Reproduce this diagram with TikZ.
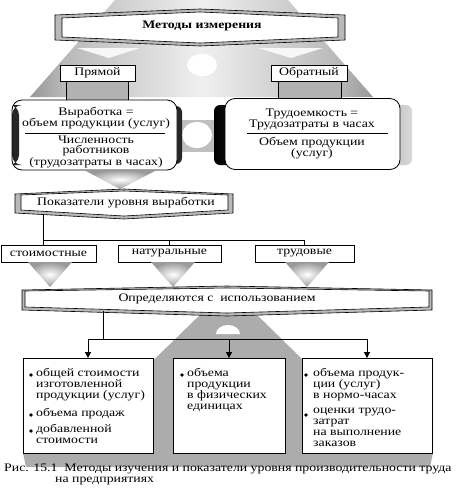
\documentclass[tikz,border=0pt]{standalone}
\usepackage{fontspec}
\setmainfont{Liberation Serif}[FakeStretch=1.2]
\usetikzlibrary{arrows.meta}
\pgfdeclarehorizontalshading{trapsh}{100bp}{color(0bp)=(black); color(12bp)=(black!75); color(30bp)=(gray!55); color(50bp)=(gray!12); color(70bp)=(gray!55); color(88bp)=(black!75); color(100bp)=(black)}
\begin{document}
\begin{tikzpicture}[x=1pt,y=-1pt,
  every node/.style={inner sep=0pt, font=\fontsize{11.5}{10}\selectfont},
  lab/.style={draw=black, fill=white, line width=0.8pt, minimum height=16pt},
  ln/.style={line width=0.8pt},
  arr/.style={line width=0.8pt, -{Triangle[length=6pt,width=6pt]}},
  txt/.style={align=center},
  btxt/.style={align=left, anchor=north west, font=\fontsize{11.5}{11}\selectfont},
  bigbox/.style={draw=black, fill=white, line width=0.8pt, minimum height=95pt},
  rbox/.style={draw=black, fill=white, rounded corners=10pt, line width=0.8pt},
  ban/.style={line width=0.6pt},
  fun/.style={inner color=white, outer color=gray!80},
]
\useasboundingbox (0,0) rectangle (459,493);
% top trapezoid
\shade[shading=trapsh] (115,0) -- (288,0) -- (373,97) -- (30,97) -- cycle;
\fill[gray!6] (77,48) -- (140,48) -- (109,58) -- cycle;
\fill[gray!6] (258,48) -- (323,48) -- (291,58) -- cycle;
\fill[white] (202,65) ellipse (15 and 11);
% banner 1
\filldraw[ban, fill=gray!55] (55,15)--(200,9)--(345,15)--(345,40)--(200,46)--(55,40)--cycle;
\filldraw[ban, fill=white] (62,18)--(200,12)--(338,18)--(338,37)--(200,43)--(62,37)--cycle;
\node[font=\fontsize{11.5}{10}\selectfont\bfseries] (mi) at (202,26) {Методы измерения};
% labels and pillars
\node[lab, minimum width=75pt] (pr) at (97.5,73) {Прямой};
\node[lab, minimum width=76pt] (ob) at (309,73) {Обратный};
\filldraw[ln, fill=gray!60] (66,81) rectangle (128,100);
\filldraw[ln, fill=gray!60] (278,81) rectangle (341,98);
% middle band
\fill[gray!50] (170,120) rectangle (226,152);
\fill[white] (197,135) ellipse (15 and 13);
% left box
\fill[black!85, rounded corners=6pt] (16,106) rectangle (182,164);
\node[rbox, minimum width=165pt, minimum height=70pt,
  path picture={\fill[black!85] ([yshift=5pt]path picture bounding box.south west) rectangle ([xshift=7pt,yshift=-5pt]path picture bounding box.north west);}] (L) at (94.5,135) {};
\node[txt] (Lt) at (96,118) {Выработка =\\объем продукции (услуг)};
\draw[ln] (25,133) -- (165,133);
\node[txt] (Lb) at (96,152) {Численность\\работников\\(трудозатраты в часах)};
% right box
\shade[left color=black, right color=gray!30, rounded corners=6pt] (214,105) rectangle (412,165);
\node[rbox, minimum width=175pt, minimum height=71pt] (R) at (312.5,134) {};
\node[txt] (Rt) at (312,119) {Трудоемкость =\\Трудозатраты в часах};
\draw[ln] (247,133) -- (388,133);
\node[txt] (Rb) at (312,148) {Объем продукции\\(услуг)};
% funnel
\shade[fun] (84,170) -- (157,170) -- (120,189) -- cycle;
% banner 2
\filldraw[ban, fill=gray!55] (15,194)--(124,189)--(233,194)--(233,213)--(124,219)--(15,213)--cycle;
\filldraw[ban, fill=white] (21,195)--(124,191)--(228,195)--(228,210)--(124,216)--(21,210)--cycle;
\node (pu) at (126,203) {Показатели уровня выработки};
% level labels
\coordinate (s1) at (43,214);
\coordinate (j1) at (43,240);
\node[lab, minimum width=95pt, minimum height=17pt] (st) at (48.5,253.5) {стоимостные};
\node[lab, minimum width=103pt, minimum height=17pt] (na) at (169.5,253.5) {натуральные};
\node[lab, minimum width=99pt, minimum height=17pt] (tr) at (304.5,253.5) {трудовые};
\draw[ln] (s1) -- (s1 |- st.north);
\draw[ln] (j1) -| (na.north);
\draw[ln] (j1) -| (tr.north);
\shade[fun] (28,262)--(72,262)--(50,287)--cycle;
\shade[fun] (151,262)--(195,262)--(173,287)--cycle;
\shade[fun] (285,262)--(329,262)--(307,287)--cycle;
% roof and base
\fill[gray!65] (205,310)--(252,310)--(400,455)--(56,455)--cycle;
\fill[gray!65] (23,453)--(433,453)--(430,467)--(26,467)--cycle;
\fill[white] (216,334) arc (180:360:12 and 9) -- cycle;
% banner 3
\filldraw[ban, fill=gray!55] (22,290)--(227,286)--(432,290)--(432,310)--(227,316)--(22,310)--cycle;
\filldraw[ban, fill=white] (25,291)--(227,288)--(429,291)--(429,307)--(227,313)--(25,307)--cycle;
\node (op) at (217,299) {Определяются с\ \ использованием};
% bottom boxes
\coordinate (s3) at (103,311);
\coordinate (j3) at (103,339);
\node[bigbox, minimum width=130pt] (B1) at (88,406) {};
\node[bigbox, minimum width=112pt] (B2) at (229,406) {};
\node[bigbox, minimum width=130pt] (B3) at (367,406) {};
\draw[ln] (s3) -- (j3);
\draw[ln] (j3 -| B1.north) -- (j3 -| B3.north);
\draw[arr] (j3 -| B1.north) -- (B1.north);
\draw[arr] (j3 -| B2.north) -- (B2.north);
\draw[arr] (j3 -| B3.north) -- (B3.north);
\node[btxt] (t11) at (36,368) {общей стоимости\\изготовленной\\продукции (услуг)};
\node[btxt] (t12) at (36,408) {объема продаж};
\node[btxt] (t13) at (36,424) {добавленной\\стоимости};
\node[btxt] (t21) at (187,368) {объема\\продукции\\в физических\\единицах};
\node[btxt] (t31) at (313,368) {объема продук-\\ции (услуг)\\в нормо-часах};
\node[btxt] (t32) at (313,408) {оценки трудо-\\затрат\\на выполнение\\заказов};
\fill (31,375) circle (1.8);
\fill (31,415) circle (1.8);
\fill (31,431) circle (1.8);
\fill (182,375) circle (1.8);
\fill (306,375) circle (1.8);
\fill (306,415) circle (1.8);
% caption
\node[anchor=west] (cap1) at (4,469) {Рис. 15.1\ \ Методы изучения и показатели уровня производительности труда};
\node[anchor=west] (cap2) at (55,481) {на предприятиях};
\end{tikzpicture}
\end{document}
